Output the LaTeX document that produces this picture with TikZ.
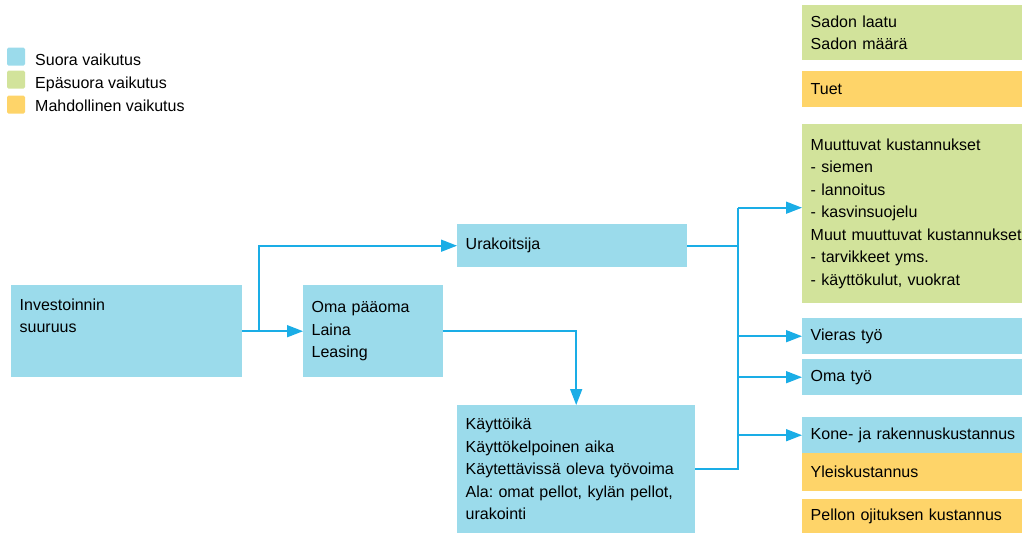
\documentclass[tikz,border=0pt]{standalone}
\usepackage{fontspec}
\setmainfont{Liberation Sans}
\usetikzlibrary{arrows.meta}
\frenchspacing
\definecolor{sininen}{HTML}{9BDBEB}
\definecolor{vihrea}{HTML}{D2E39B}
\definecolor{oranssi}{HTML}{FED469}
\definecolor{nuoli}{HTML}{1AADE6}
\begin{document}
\begin{tikzpicture}[x=1pt,y=1pt,
    every node/.style={font=\fontsize{16}{22.5}\selectfont},
    box/.style={anchor=north west, align=left, inner xsep=8.5pt, inner ysep=4pt},
    rbox/.style={box, text width=203pt},
    conn/.style={nuoli, line width=1.6pt},
    arr/.style={conn, -{Triangle[length=16pt,width=12pt]}},
    legsq/.style={minimum size=18pt, inner sep=0pt, rounded corners=1.5pt},
    legtxt/.style={anchor=base west, inner sep=0pt}]
    \useasboundingbox (0,0) rectangle (1022,-533);
    \node (suora) [legsq, fill=sininen] at (16,-56.5) {};
    \node (suoratxt) [legtxt] at (35,-65) {Suora vaikutus};
    \node (epasuora) [legsq, fill=vihrea] at (16,-79.5) {};
    \node (epasuoratxt) [legtxt] at (35,-88) {Epäsuora vaikutus};
    \node (mahd) [legsq, fill=oranssi] at (16,-104.5) {};
    \node (mahdtxt) [legtxt] at (35,-111.5) {Mahdollinen vaikutus};
    \node (inv) [box, fill=sininen, text width=214pt, minimum height=92pt] at (11,-285) {Investoinnin\\suuruus\\\rule{0pt}{30pt}};
    \node (oma) [box, fill=sininen, text width=123pt, minimum height=92pt] at (303,-285) {Oma pääoma\\Laina\\Leasing\\[-6pt]};
    \node (urak) [box, fill=sininen, text width=213pt, minimum height=43pt] at (457,-224) {Urakoitsija};
    \node (kay) [box, fill=sininen, text width=221pt, minimum height=128pt] at (457,-405) {Käyttöikä\\Käyttökelpoinen aika\\Käytettävissä oleva työvoima\\Ala: omat pellot, kylän pellot,\\urakointi};
    \node (sadon) [rbox, fill=vihrea, minimum height=55pt] at (802,-5) {Sadon laatu\\Sadon määrä};
    \node (tuet) [rbox, fill=oranssi, minimum height=36pt] at (802,-71) {Tuet};
    \node (muut) [rbox, fill=vihrea, minimum height=179pt] at (802,-124) {Muuttuvat kustannukset\\- siemen\\- lannoitus\\- kasvinsuojelu\\\mbox{Muut muuttuvat kustannukset}\\- tarvikkeet yms.\\- käyttökulut, vuokrat};
    \node (vieras) [rbox, fill=sininen, minimum height=36pt] at (802,-318) {Vieras työ};
    \node (omatyo) [rbox, fill=sininen, minimum height=36pt] at (802,-359) {Oma työ};
    \node (kone) [rbox, fill=sininen, minimum height=36pt] at (802,-417) {\mbox{Kone- ja rakennuskustannus}};
    \node (yleis) [rbox, fill=oranssi, minimum height=38pt] at (802,-453) {Yleiskustannus};
    \node (pellon) [rbox, fill=oranssi, minimum height=34pt] at (802,-499) {Pellon ojituksen kustannus};
    \coordinate (split) at (259,0);
    \coordinate (trunk) at (738,0);
    \draw [arr] (inv) -- (oma);
    \draw [arr] (split |- inv.east) |- (urak);
    \draw [arr] (oma.east) -| (kay);
    \draw [conn] (urak.east) -- (urak.east -| trunk);
    \draw [conn] (kay.east) -| ([yshift=6pt]trunk |- muut.west);
    \draw [arr] ([yshift=6pt]trunk |- muut.west) -- ([yshift=6pt]muut.west);
    \foreach \n in {vieras,omatyo,kone}
        \draw [arr] (trunk |- \n.west) -- (\n.west);
\end{tikzpicture}
\end{document}
